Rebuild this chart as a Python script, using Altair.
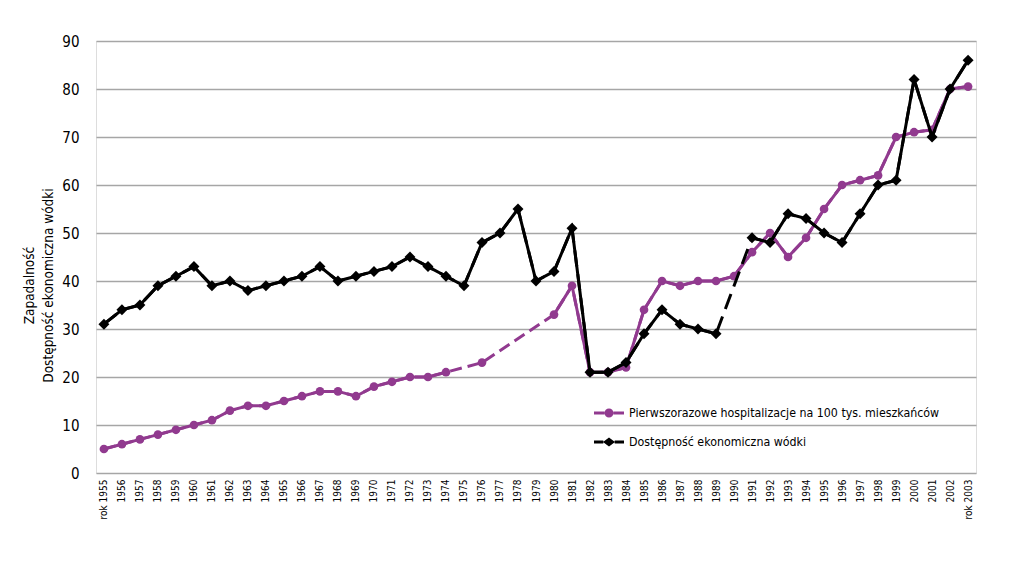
import altair as alt
import pandas as pd

years = list(range(1955, 2004))

# Pierwszorazowe hospitalizacje na 100 tys. mieszkańców (None = brak danych)
hosp = [5, 6, 7, 8, 9, 10, 11, 13, 14, 14,
        15, 16, 17, 17, 16, 18, 19, 20, 20, 21,
        None, 23, None, None, None, 33, 39, 21, 21, 22,
        34, 40, 39, 40, 40, 41, 46, 50, 45, 49,
        55, 60, 61, 62, 70, 71, 71.5, 80, 80.5]

# Dostępność ekonomiczna wódki
vodka = [31, 34, 35, 39, 41, 43, 39, 40, 38, 39,
         40, 41, 43, 40, 41, 42, 43, 45, 43, 41,
         39, 48, 50, 55, 40, 42, 51, 21, 21, 23,
         29, 34, 31, 30, 29, None, 49, 48, 54, 53,
         50, 48, 54, 60, 61, 82, 70, 80, 86]

series_names = ["Pierwszorazowe hospitalizacje na 100 tys. mieszkańców",
                "Dostępność ekonomiczna wódki"]
series_colors = ["#913a8f", "#000000"]
series_shapes = ["circle", "diamond"]

y_ticks = list(range(0, 100, 10))

FONT = "Liberation Sans Narrow, DejaVu Sans Condensed, Arial Narrow, sans-serif"


def frame(values, name):
    rows = []
    seg = 0
    prev_none = False
    for yr, v in zip(years, values):
        if v is None:
            prev_none = True
            continue
        if prev_none:
            seg += 1
            prev_none = False
        rows.append({"year": yr, "value": v, "seg": seg, "series": name})
    return pd.DataFrame(rows)


x_enc = alt.X(
    "year:Q",
    scale=alt.Scale(domain=[1955 - 0.44, 2003 + 0.44], nice=False, zero=False),
    axis=alt.Axis(
        values=years, title=None, grid=False, ticks=False, domain=False,
        labelAngle=270, labelFontSize=10, labelPadding=6, labelFont=FONT,
        labelColor="#000000", labelOverlap=False,
        labelExpr="(datum.value == 1955 || datum.value == 2003) ? 'rok ' + datum.value : '' + datum.value",
    ),
)
y_enc = alt.Y(
    "value:Q",
    scale=alt.Scale(domain=[0, 90], nice=False),
    axis=alt.Axis(
        values=y_ticks, grid=True, gridColor="#a6a6a6", gridWidth=1.3,
        ticks=False, domain=False, labelFontSize=15, labelPadding=17,
        labelFont=FONT, labelColor="#000000",
        title=["Zapadalność", "Dostępność ekonomiczna wódki"],
        titleFont=FONT, titleFontSize=13.5, titleFontWeight="normal",
        titleColor="#000000", titleAngle=270, titleAlign="center",
        titleBaseline="bottom", titleX=-60, titleY=244, titleLineHeight=19,
    ),
)

circle_sym = ("M-1,-0.1 L-0.3,-0.1 L-0.3,0.1 L-1,0.1 Z "
              "M0.3,-0.1 L1,-0.1 L1,0.1 L0.3,0.1 Z "
              "M-0.3,0 A0.3,0.3 0 1,0 0.3,0 A0.3,0.3 0 1,0 -0.3,0 Z")
diamond_sym = ("M-1,-0.1 L-0.38,-0.1 L-0.38,0.1 L-1,0.1 Z "
               "M0.38,-0.1 L1,-0.1 L1,0.1 L0.38,0.1 Z "
               "M-0.4,0 L0,-0.3 L0.4,0 L0,0.3 Z")
symbols = [circle_sym, diamond_sym]
legend_y = [357, 386]

layers = []
for values, name, color, shape, sym, ly, dash in zip(
        [hosp, vodka], series_names, series_colors, series_shapes, symbols,
        legend_y, [[12, 6], [16, 8]]):
    df = frame(values, name)
    base = alt.Chart(df)
    dashed = base.mark_line(color=color, strokeWidth=3, strokeDash=dash).encode(
        x=x_enc, y=y_enc)
    solid = base.mark_line(color=color, strokeWidth=3).encode(
        x=x_enc, y=y_enc, detail="seg:N")
    pts = base.mark_point(shape=shape, filled=True, opacity=1,
                          size=75 if shape == "circle" else 120).encode(
        x=x_enc, y=y_enc,
        color=alt.Color(
            "series:N",
            scale=alt.Scale(domain=[name], range=[color]),
            legend=alt.Legend(
                title=None, orient="none", legendX=498, legendY=ly,
                symbolType=sym, symbolSize=900, symbolStrokeWidth=0,
                labelFont=FONT, labelFontSize=12.3, labelColor="#000000",
                labelLimit=400, labelOffset=5, padding=0,
            ),
        ),
    )
    layers += [dashed, solid, pts]

chart = alt.layer(*layers).resolve_scale(color="independent").properties(
    width=880, height=432,
    padding={"left": 88, "top": 33, "right": 30, "bottom": 80},
    autosize=alt.AutoSizeParams(type="none"),
).configure_view(stroke=None).configure(background="#ffffff")

chart.save("out.html", embed_options={"renderer": "svg", "actions": False})
